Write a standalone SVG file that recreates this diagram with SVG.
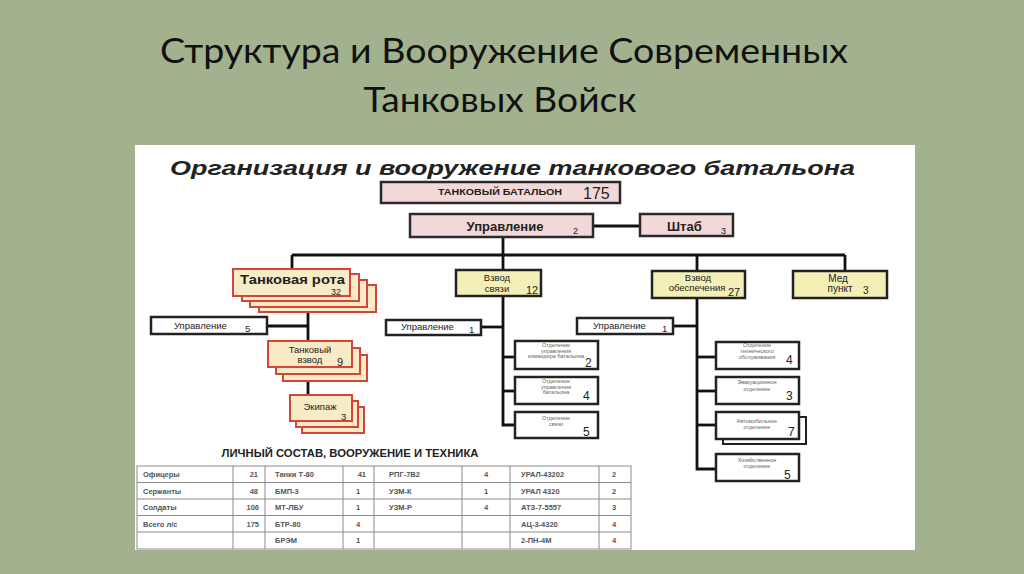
<svg xmlns="http://www.w3.org/2000/svg" width="1024" height="574" viewBox="0 0 1024 574">
<style>
.ttl{font-family:Lato,"Open Sans","Liberation Sans",sans-serif;font-size:35px;fill:#111}
.t{font-family:"Liberation Sans",Arial,sans-serif;fill:#222}
.b{font-weight:bold}
.pink{fill:#f2d8d8;stroke:#2a2a2a;stroke-width:2.5}
.yel{fill:#f3efb6;stroke:#222;stroke-width:2.5}
.cream{fill:#f8ecc6;stroke:#d4453a;stroke-width:2}
.wht{fill:#fff;stroke:#222;stroke-width:2.5}
.ln{stroke:#111;stroke-width:2.8;fill:none}
.tiny{font-family:"Liberation Sans",Arial,sans-serif;font-size:5.5px;fill:#666;text-anchor:middle}
.num{font-family:"Liberation Sans",Arial,sans-serif;font-size:12px;fill:#222}
.cell{fill:#fff;stroke:#8a8a8a;stroke-width:1}
.tc{font-family:"Liberation Sans",Arial,sans-serif;font-size:7.5px;font-weight:bold;fill:#555}
.mid{text-anchor:middle}
</style>
<rect x="0" y="0" width="1024" height="574" fill="#a3b28e"/>
<text class="ttl" x="504" y="63" text-anchor="middle" textLength="688" lengthAdjust="spacingAndGlyphs">Структура и Вооружение Современных</text>
<text class="ttl" x="500" y="112" text-anchor="middle" textLength="273" lengthAdjust="spacingAndGlyphs">Танковых Войск</text>
<rect x="135" y="145" width="780" height="405" fill="#fff"/>
<text class="t b" x="170" y="175" font-size="20" font-style="italic" textLength="685" lengthAdjust="spacingAndGlyphs">Организация и вооружение танкового батальона</text>

<g id="connectors">
<path class="ln" d="M593,226 H640"/>
<path class="ln" d="M503,237 V270"/>
<path class="ln" d="M292,255 H845"/>
<path class="ln" d="M292,255 V269"/>
<path class="ln" d="M697,255 V271"/>
<path class="ln" d="M845,255 V271"/>
<path class="ln" d="M308,312 V341"/>
<path class="ln" d="M267,326 H308"/>
<path class="ln" d="M308,381 V395"/>
<path class="ln" d="M503,296 V425 H515"/>
<path class="ln" d="M481,327 H503"/>
<path class="ln" d="M503,357 H515"/>
<path class="ln" d="M503,391 H515"/>
<path class="ln" d="M697,298 V469 H716"/>
<path class="ln" d="M673,326 H697"/>
<path class="ln" d="M697,357 H716"/>
<path class="ln" d="M697,391 H716"/>
<path class="ln" d="M697,425 H716"/>
</g>

<g id="battalion">
<rect class="pink" x="381" y="182" width="239" height="21"/>
<text class="t b mid" x="500" y="195" font-size="9" textLength="124" lengthAdjust="spacingAndGlyphs">ТАНКОВЫЙ БАТАЛЬОН</text>
<text class="t" x="583" y="199" font-size="16">175</text>
</g>

<g id="upravlenie">
<rect class="pink" x="410" y="214" width="183" height="23"/>
<text class="t b mid" x="505" y="231" font-size="13">Управление</text>
<text class="t" x="573" y="234" font-size="9">2</text>
</g>

<g id="shtab">
<rect class="pink" x="640" y="214" width="93" height="22"/>
<text class="t b" x="667" y="231" font-size="13">Штаб</text>
<text class="t" x="721" y="234" font-size="9">3</text>
</g>

<g id="tank-company">
<rect class="cream" x="259" y="285" width="117" height="27"/>
<rect class="cream" x="250" y="280" width="117" height="27"/>
<rect class="cream" x="242" y="274" width="117" height="27"/>
<rect class="cream" x="233" y="269" width="117" height="27"/>
<text class="t b" x="240" y="284" font-size="12.5" textLength="105" lengthAdjust="spacingAndGlyphs">Танковая рота</text>
<text class="t" x="331" y="294.5" font-size="9">32</text>
</g>

<g id="tank-company-mgmt">
<rect class="wht" x="151" y="317" width="116" height="17"/>
<text class="t" x="174" y="329" font-size="9.5">Управление</text>
<text class="t" x="245" y="332" font-size="9.5">5</text>
</g>

<g id="tank-platoon">
<rect class="cream" x="283" y="355" width="84" height="26"/>
<rect class="cream" x="276" y="348" width="84" height="26"/>
<rect class="cream" x="268" y="341" width="84" height="26"/>
<text class="t mid" x="310" y="353" font-size="9.5">Танковый</text>
<text class="t mid" x="310" y="363" font-size="9.5">взвод</text>
<text class="t" x="337" y="366" font-size="11">9</text>
</g>

<g id="crew">
<rect class="cream" x="302" y="407" width="62" height="26"/>
<rect class="cream" x="296" y="401" width="62" height="26"/>
<rect class="cream" x="290" y="395" width="62" height="26"/>
<text class="t mid" x="320" y="410" font-size="9.5">Экипаж</text>
<text class="t" x="341" y="420" font-size="9.5">3</text>
</g>

<g id="signal-platoon">
<rect class="yel" x="456" y="270" width="85" height="26"/>
<text class="t mid" x="497" y="281" font-size="9.5">Взвод</text>
<text class="t mid" x="497" y="292" font-size="9.5">связи</text>
<text class="t" x="526" y="294" font-size="11">12</text>
</g>

<g id="signal-mgmt">
<rect class="wht" x="386" y="320" width="95" height="15"/>
<text class="t" x="401" y="330" font-size="9.5">Управление</text>
<text class="t" x="469" y="333" font-size="9.5">1</text>
</g>

<g id="signal-sec1">
<rect class="wht" x="515" y="341" width="83" height="28"/>
<text class="tiny" x="556" y="347">Отделение</text>
<text class="tiny" x="556" y="352.5">управления</text>
<text class="tiny" x="556" y="358">командира батальона</text>
<text class="num" x="585" y="367">2</text>
</g>

<g id="signal-sec2">
<rect class="wht" x="515" y="377" width="83" height="27"/>
<text class="tiny" x="556" y="383">Отделение</text>
<text class="tiny" x="556" y="388.5">управления</text>
<text class="tiny" x="556" y="394">батальона</text>
<text class="num" x="583" y="400">4</text>
</g>

<g id="signal-sec3">
<rect class="wht" x="515" y="412" width="83" height="26"/>
<text class="tiny" x="556" y="420">Отделение</text>
<text class="tiny" x="556" y="426">связи</text>
<text class="num" x="583" y="436">5</text>
</g>

<g id="support-platoon">
<rect class="yel" x="652" y="271" width="93" height="27"/>
<text class="t mid" x="698" y="281" font-size="9.5">Взвод</text>
<text class="t mid" x="697" y="291" font-size="9.5">обеспечения</text>
<text class="t" x="728" y="296" font-size="11">27</text>
</g>

<g id="support-mgmt">
<rect class="wht" x="577" y="318" width="96" height="16"/>
<text class="t" x="593" y="329" font-size="9.5">Управление</text>
<text class="t" x="662" y="332" font-size="9.5">1</text>
</g>

<g id="support-sec1">
<rect class="wht" x="716" y="342" width="83" height="27"/>
<text class="tiny" x="757" y="347">Отделение</text>
<text class="tiny" x="757" y="353">технического</text>
<text class="tiny" x="757" y="359">обслуживания</text>
<text class="num" x="786" y="364">4</text>
</g>

<g id="support-sec2">
<rect class="wht" x="716" y="377" width="83" height="27"/>
<text class="tiny" x="757" y="384">Эвакуационное</text>
<text class="tiny" x="757" y="391">отделение</text>
<text class="num" x="786" y="400">3</text>
</g>

<g id="support-sec3">
<rect class="wht" x="723" y="417" width="83" height="27" style="stroke-width:2"/>
<rect class="wht" x="716" y="412" width="83" height="27"/>
<text class="tiny" x="757" y="423">Автомобильное</text>
<text class="tiny" x="757" y="429">отделение</text>
<text class="num" x="788" y="436">7</text>
</g>

<g id="support-sec4">
<rect class="wht" x="716" y="454" width="83" height="27"/>
<text class="tiny" x="757" y="462">Хозяйственное</text>
<text class="tiny" x="757" y="468">отделение</text>
<text class="num" x="784" y="479">5</text>
</g>

<g id="med-point">
<rect class="yel" x="793" y="271" width="94" height="27"/>
<text class="t mid" x="838" y="282" font-size="10">Мед</text>
<text class="t mid" x="840" y="292" font-size="10">пункт</text>
<text class="t" x="863" y="294" font-size="10">3</text>
</g>

<g id="table">
<text class="t b mid" x="350" y="457" font-size="10" fill="#333" textLength="257" lengthAdjust="spacingAndGlyphs">ЛИЧНЫЙ СОСТАВ, ВООРУЖЕНИЕ И ТЕХНИКА</text>
<rect class="cell" x="137" y="466" width="494" height="83"/>
<path stroke="#8a8a8a" stroke-width="1" fill="none" d="M137,482.5 H631 M137,499 H631 M137,515.5 H631 M137,532 H631 M233,466 V549 M265,466 V549 M343,466 V549 M374,466 V549 M462,466 V549 M510,466 V549 M599,466 V549"/>
<g class="tc">
<text x="143" y="477">Офицеры</text><text x="258" y="477" text-anchor="end">21</text><text x="275" y="477">Танки Т-80</text><text x="366" y="477" text-anchor="end">41</text><text x="389" y="477">РПГ-7В2</text><text x="486" y="477" class="mid">4</text><text x="521" y="477">УРАЛ-43202</text><text x="614" y="477" class="mid">2</text>
<text x="143" y="493.5">Сержанты</text><text x="258" y="493.5" text-anchor="end">48</text><text x="275" y="493.5">БМП-3</text><text x="358" y="493.5" class="mid">1</text><text x="389" y="493.5">УЗМ-К</text><text x="486" y="493.5" class="mid">1</text><text x="521" y="493.5">УРАЛ 4320</text><text x="614" y="493.5" class="mid">2</text>
<text x="143" y="510">Солдаты</text><text x="259" y="510" text-anchor="end">106</text><text x="275" y="510">МТ-ЛБУ</text><text x="358" y="510" class="mid">1</text><text x="389" y="510">УЗМ-Р</text><text x="486" y="510" class="mid">4</text><text x="521" y="510">АТЗ-7-5557</text><text x="614" y="510" class="mid">3</text>
<text x="143" y="526.5">Всего л/с</text><text x="259" y="526.5" text-anchor="end">175</text><text x="275" y="526.5">БТР-80</text><text x="358" y="526.5" class="mid">4</text><text x="521" y="526.5">АЦ-3-4320</text><text x="614" y="526.5" class="mid">4</text>
<text x="275" y="543">БРЭМ</text><text x="358" y="543" class="mid">1</text><text x="521" y="543">2-ПН-4М</text><text x="614" y="543" class="mid">4</text>
</g>
</g>
</svg>
